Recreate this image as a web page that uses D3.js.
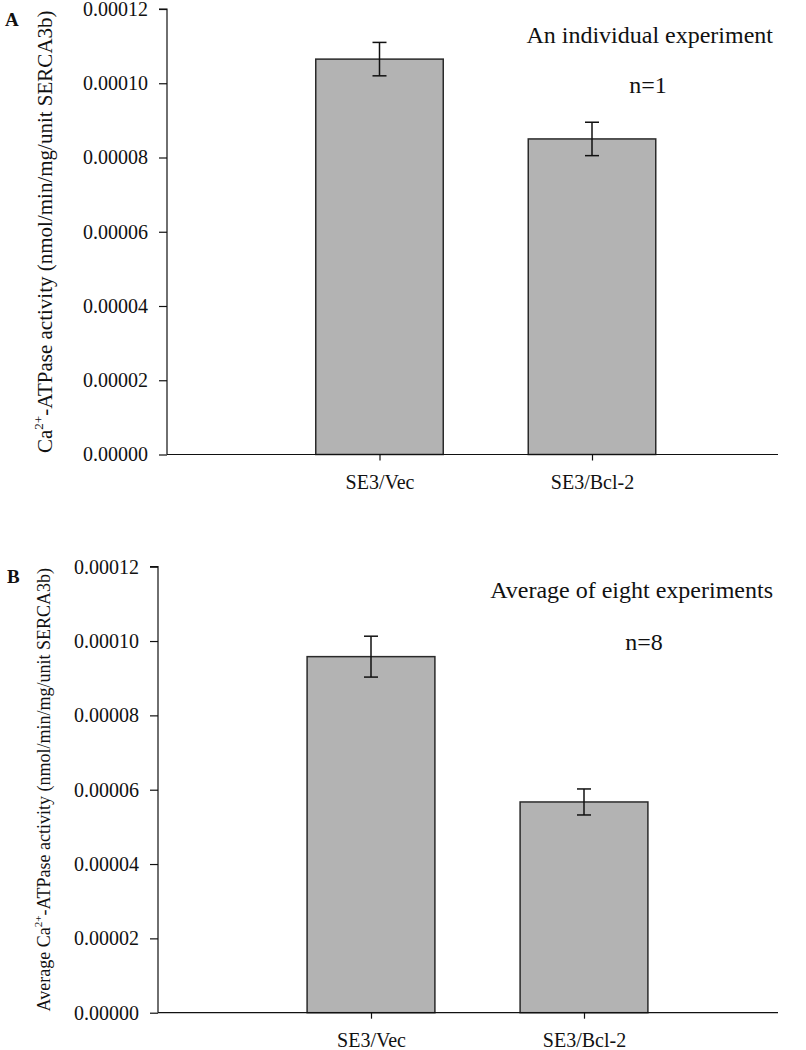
<!DOCTYPE html>
<html>
<head>
<meta charset="utf-8">
<script src="https://cdn.jsdelivr.net/npm/d3@7"></script>
<style>
  html, body { margin: 0; padding: 0; background: #fff; }
  svg { display: block; }
  text { font-family: "Liberation Serif", "Times New Roman", serif; fill: #111; }
</style>
</head>
<body>
<script>
// ---- data ----
const categories = ["SE3/Vec", "SE3/Bcl-2"];
const valuesA = [0.0001065, 0.0000850];
const errorsA = [0.0000045, 0.0000045];
const valuesB = [0.0000958, 0.0000567];
const errorsB = [0.0000055, 0.0000035];
const yTicks = [0, 0.00002, 0.00004, 0.00006, 0.00008, 0.00010, 0.00012];
const yTickLabels = ["0.00000", "0.00002", "0.00004", "0.00006", "0.00008", "0.00010", "0.00012"];
const panelLetters = ["A", "B"];
const notesA = ["An individual experiment", "n=1"];
const notesB = ["Average of eight experiments", "n=8"];
const yLabelPrefixes = ["", "Average "];

const W = 806, H = 1050;
const svg = d3.select("body").append("svg").attr("width", W).attr("height", H);

const panels = [
  { letter: panelLetters[0], values: valuesA, errors: errorsA, notes: notesA, prefix: yLabelPrefixes[0],
    left: 167, right: 778, top: 9, bottom: 454.5, step: 212.5, labelX: 52, labelSize: 21,
    letterX: 5, letterY: 26, noteY1: 42.7, noteX2: 648, noteY2: 92.7 },
  { letter: panelLetters[1], values: valuesB, errors: errorsB, notes: notesB, prefix: yLabelPrefixes[1],
    left: 158, right: 778, top: 566.7, bottom: 1012.7, step: 213, labelX: 50, labelSize: 18,
    letterX: 7, letterY: 583, noteY1: 598, noteX2: 644, noteY2: 649.5 }
];

panels.forEach(p => {
  const g = svg.append("g");
  const y = d3.scaleLinear().domain([0, 0.00012]).range([p.bottom, p.top]);
  const x = d3.scaleLinear().domain([-1, (p.right - p.left) / p.step - 1]).range([p.left, p.right]);
  const bw = p.step * 0.6;

  // bars
  g.selectAll("rect.bar").data(p.values).join("rect")
    .attr("class", "bar")
    .attr("x", (d, i) => x(i) - bw / 2)
    .attr("width", bw)
    .attr("y", d => y(d))
    .attr("height", d => y(0) - y(d))
    .attr("fill", "#b3b3b3")
    .attr("stroke", "#2a2a2a")
    .attr("stroke-width", 1.5);

  // error bars
  const eg = g.selectAll("g.err").data(p.values).join("g").attr("class", "err")
    .attr("stroke", "#111").attr("stroke-width", 1.5);
  eg.append("line")
    .attr("x1", (d, i) => x(i)).attr("x2", (d, i) => x(i))
    .attr("y1", (d, i) => y(d + p.errors[i])).attr("y2", (d, i) => y(d - p.errors[i]));
  eg.append("line")
    .attr("x1", (d, i) => x(i) - 7).attr("x2", (d, i) => x(i) + 7)
    .attr("y1", (d, i) => y(d + p.errors[i])).attr("y2", (d, i) => y(d + p.errors[i]));
  eg.append("line")
    .attr("x1", (d, i) => x(i) - 7).attr("x2", (d, i) => x(i) + 7)
    .attr("y1", (d, i) => y(d - p.errors[i])).attr("y2", (d, i) => y(d - p.errors[i]));

  // y axis
  const yAxis = d3.axisLeft(y).tickValues(yTicks)
    .tickFormat((d, i) => yTickLabels[i]).tickSize(8).tickPadding(11);
  const ya = g.append("g").attr("transform", `translate(${p.left},0)`).call(yAxis);
  ya.select(".domain").attr("stroke", "#111").attr("stroke-width", 1.2).attr("d", `M-8,${p.top}H0V${p.bottom}`);
  ya.selectAll(".tick line").attr("stroke", "#111").attr("stroke-width", 1.2);
  ya.selectAll(".tick text").attr("font-size", 20).attr("font-family", "Liberation Serif").attr("fill", "#111");

  // x axis
  const xAxis = d3.axisBottom(x).tickValues(categories.map((c, i) => i))
    .tickFormat((d) => categories[d]).tickSize(6).tickPadding(14);
  const xa = g.append("g").attr("transform", `translate(0,${p.bottom})`).call(xAxis);
  xa.select(".domain").attr("stroke", "#111").attr("stroke-width", 1.2).attr("d", `M${p.left},0H${p.right}`);
  xa.selectAll(".tick line").attr("stroke", "#111").attr("stroke-width", 1.2);
  xa.selectAll(".tick text").attr("font-size", 20).attr("font-family", "Liberation Serif").attr("fill", "#111");

  // y label
  const cy = (p.top + p.bottom) / 2;
  const lab = g.append("text")
    .attr("transform", `translate(${p.labelX},${cy}) rotate(-90)`)
    .attr("text-anchor", "middle")
    .attr("font-size", p.labelSize);
  lab.append("tspan").text(p.prefix + "Ca");
  lab.append("tspan").attr("font-size", p.labelSize * 0.62).attr("dy", -p.labelSize * 0.42).text("2+");
  lab.append("tspan").attr("dy", p.labelSize * 0.42).text("-ATPase activity (nmol/min/mg/unit SERCA3b)");

  // panel letter
  g.append("text").attr("x", p.letterX).attr("y", p.letterY)
    .attr("font-size", 19).attr("font-weight", "bold").text(p.letter);

  // notes
  g.append("text").attr("x", 773).attr("y", p.noteY1).attr("text-anchor", "end")
    .attr("font-size", 24).text(p.notes[0]);
  g.append("text").attr("x", p.noteX2).attr("y", p.noteY2).attr("text-anchor", "middle")
    .attr("font-size", 24).text(p.notes[1]);
});
</script>
</body>
</html>
